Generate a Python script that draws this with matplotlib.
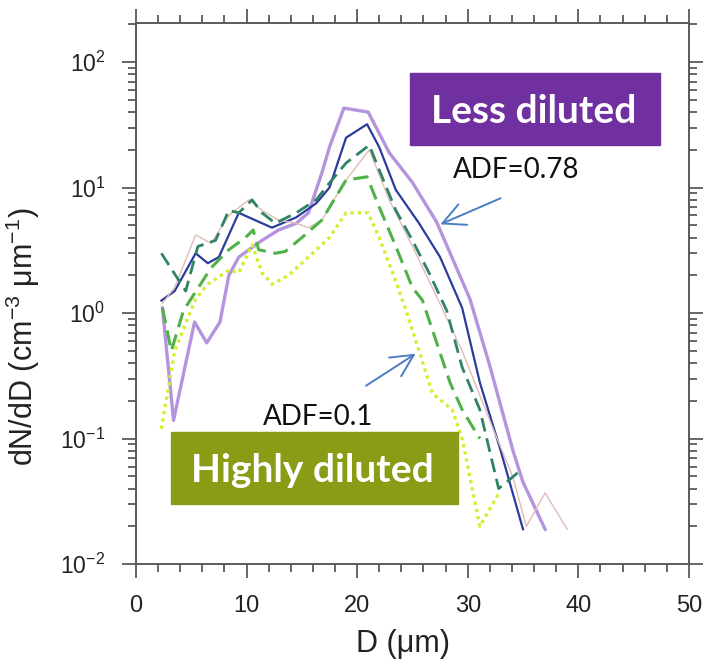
import matplotlib
matplotlib.use("Agg")
import matplotlib.pyplot as plt
from matplotlib.patches import Rectangle
from matplotlib.ticker import LogLocator, MultipleLocator, NullFormatter

plt.rcParams["font.family"] = ["Liberation Sans", "DejaVu Sans"]
plt.rcParams["mathtext.default"] = "regular"
plt.rcParams["axes.unicode_minus"] = False

# size distributions (D in um, dN/dD in cm-3 um-1)
purple_x = [2.4, 3.4, 5.3, 6.4, 7.6, 8.4, 9.3, 11.4, 12.9, 14.5, 15.6, 16.8, 17.5, 18.8, 21.0, 22.9, 25.0, 27.2, 30.2, 32.0, 34.1, 35.0, 37.0]
purple_y = [1.1, 0.14, 0.85, 0.58, 0.85, 2.0, 2.8, 3.8, 4.6, 5.2, 6.3, 13, 21, 43, 40, 19, 11, 5.3, 1.3, 0.38, 0.08, 0.045, 0.019]

blue_x = [2.3, 3.5, 5.4, 6.5, 7.5, 9.3, 10.2, 12.3, 14.5, 16.3, 17.5, 19.0, 20.9, 22.0, 23.5, 25.6, 27.5, 29.5, 31.1, 32.9, 35.0]
blue_y = [1.26, 1.5, 3.0, 2.5, 2.8, 6.3, 5.8, 4.8, 5.8, 7.5, 10, 25, 32, 21, 9.6, 5.2, 2.8, 1.1, 0.28, 0.085, 0.019]

tan_x = [2.4, 3.5, 5.4, 6.8, 8.4, 10.2, 11.4, 12.9, 14.5, 15.6, 16.8, 17.5, 19.0, 21.1, 22.9, 25.0, 26.8, 29.5, 32.3, 34.1, 35.3, 37.0, 39.0]
tan_y = [1.2, 1.6, 4.2, 3.6, 6.0, 8.0, 6.6, 5.5, 5.2, 4.8, 5.5, 7.0, 11.5, 20, 8.0, 3.4, 1.6, 0.5, 0.12, 0.049, 0.02, 0.037, 0.019]

teal_x = [2.3, 4.5, 5.6, 7.2, 8.4, 9.3, 10.5, 11.4, 12.6, 14.5, 16.3, 17.5, 19.0, 21.1, 22.0, 23.5, 25.0, 26.5, 28.1, 29.5, 31.1, 32.8, 35.0]
teal_y = [3.0, 1.5, 3.4, 3.8, 6.6, 6.3, 8.0, 6.3, 5.2, 6.3, 8.0, 10.9, 15.7, 21.8, 13.8, 6.6, 3.8, 2.1, 1.05, 0.37, 0.17, 0.04, 0.058]

green_x = [2.4, 3.2, 4.3, 6.8, 8.4, 9.9, 10.6, 11.1, 12.6, 13.5, 15.0, 16.8, 19.0, 20.9, 22.0, 23.5, 25.0, 25.9, 27.2, 28.4, 29.5, 31.1]
green_y = [1.1, 0.5, 1.05, 2.3, 3.2, 4.0, 4.6, 3.2, 3.0, 3.1, 4.0, 5.5, 11.5, 12.2, 7.0, 3.4, 1.6, 1.27, 0.58, 0.28, 0.17, 0.1]

yellow_x = [2.3, 3.5, 5.4, 6.5, 8.4, 9.3, 10.5, 11.4, 12.3, 13.8, 15.6, 17.5, 19.0, 21.0, 22.0, 23.5, 24.5, 25.6, 26.8, 28.6, 29.5, 31.1, 32.9]
yellow_y = [0.12, 0.5, 1.3, 1.7, 2.2, 2.1, 3.5, 2.1, 1.7, 2.0, 2.8, 4.0, 6.3, 6.3, 4.0, 1.8, 1.0, 0.5, 0.23, 0.17, 0.1, 0.02, 0.038]

fig = plt.figure(figsize=(7.08, 6.63), dpi=100)
ax = fig.add_axes([0.192, 0.149, 0.781, 0.816])

ax.plot(purple_x, purple_y, color="#b494dc", lw=2.4)
ax.plot(blue_x, blue_y, color="#2a3c9e", lw=1.6)
ax.plot(tan_x, tan_y, color="#e2bcb4", lw=1.0)
ax.plot(teal_x, teal_y, color="#2f8466", lw=2.0, dashes=(5, 2.5))
ax.plot(green_x, green_y, color="#4fb248", lw=2.2, dashes=(5, 2.5))
ax.plot(yellow_x, yellow_y, color="#d2ef2e", lw=2.4, dashes=(1, 1.2))

ax.set_yscale("log")
ax.set_xlim(0, 50)
ax.set_ylim(1e-2, 10 ** 2.31)
ax.xaxis.set_major_locator(MultipleLocator(10))
ax.xaxis.set_minor_locator(MultipleLocator(2))
ax.yaxis.set_major_locator(LogLocator(base=10, numticks=10))
ax.yaxis.set_minor_locator(LogLocator(base=10, subs=range(2, 10), numticks=10))
ax.yaxis.set_minor_formatter(NullFormatter())

for s in ax.spines.values():
    s.set_color("#5a5a5a")
    s.set_linewidth(1.4)
ax.tick_params(which="both", direction="out", top=True, right=True, color="#5a5a5a", width=1.3)
ax.tick_params(which="major", length=10)
ax.tick_params(which="minor", length=5.5)
ax.tick_params(axis="x", which="major", labelsize=17, pad=12, labelcolor="#222222")
ax.tick_params(axis="y", which="major", labelsize=16.5, pad=12, labelcolor="#222222")

ax.set_xlabel("D (μm)", fontsize=22, color="#222222")
ax.xaxis.set_label_coords(0.483, -0.12)
ax.set_ylabel("dN/dD (cm$^{-3}$ μm$^{-1}$)", fontsize=22, color="#222222")
ax.yaxis.set_label_coords(-0.17, 0.42)

# labels pasted on the figure
ax.add_patch(Rectangle((0.4955, 0.7745), 0.452, 0.133, transform=ax.transAxes, color="#7030a0", zorder=5))
ax.text(0.7197, 0.815, "Less diluted", transform=ax.transAxes, ha="center", va="baseline",
        fontsize=28, fontweight="bold", color="white", family=["Lato", "DejaVu Sans"], zorder=6)
ax.add_patch(Rectangle((0.0633, 0.1109), 0.519, 0.133, transform=ax.transAxes, color="#8a9b16", zorder=5))
ax.text(0.319, 0.1516, "Highly diluted", transform=ax.transAxes, ha="center", va="baseline",
        fontsize=28, fontweight="bold", color="white", family=["Lato", "DejaVu Sans"], zorder=6)

ax.text(0.687, 0.7135, "ADF=0.78", transform=ax.transAxes, ha="center", va="baseline",
        fontsize=20, color="#111111", family=["Lato", "DejaVu Sans"], zorder=6)
ax.text(0.330, 0.257, "ADF=0.1", transform=ax.transAxes, ha="center", va="baseline",
        fontsize=20, color="#111111", family=["Lato", "DejaVu Sans"], zorder=6)

arrow = dict(arrowstyle="->,head_length=0.8,head_width=0.4", color="#4a7ec4", lw=1.4, mutation_scale=20)
ax.annotate("", xy=(27.3, 5.0), xytext=(33.2, 8.4), arrowprops=arrow, zorder=6)
ax.annotate("", xy=(25.5, 0.489), xytext=(20.6, 0.257), arrowprops=arrow, zorder=6)

fig.savefig("out.png", dpi=100)
